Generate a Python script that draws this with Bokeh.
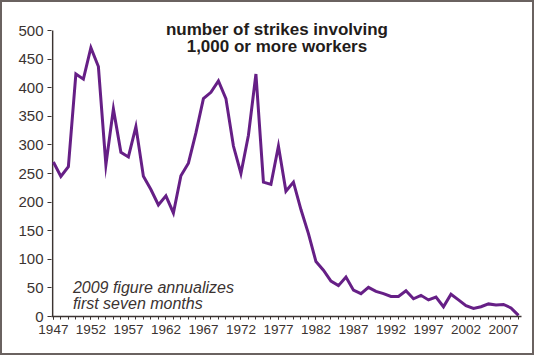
from bokeh.plotting import figure
from bokeh.models import Range1d, FixedTicker, Label
from bokeh.embed import file_html
from bokeh.resources import INLINE

years = list(range(1947, 2010))
strikes = [270, 245, 262, 424, 415, 470, 437, 265, 363, 287,
           279, 332, 245, 222, 195, 211, 181, 246, 268, 321,
           381, 392, 412, 381, 298, 250, 317, 424, 235, 231,
           298, 219, 235, 187, 145, 96, 81, 62, 54, 69,
           46, 40, 51, 44, 40, 35, 35, 45, 31, 37,
           29, 34, 17, 39, 29, 19, 14, 17, 22, 20,
           21, 15, 2]
x_tick_years = list(range(1947, 2008, 5))
y_ticks = list(range(0, 501, 50))
title_lines = ["number of strikes involving", "1,000 or more workers"]
note_lines = ["2009 figure annualizes", "first seven months"]

AX = "#3b3331"
X0 = 1946.9
p = figure(width=534, height=355, output_backend="svg", toolbar_location=None,
           x_range=Range1d(X0 - 0.15, 2009.4), y_range=Range1d(0, 528),
           min_border_left=49, min_border_right=15, min_border_top=12,
           min_border_bottom=41)
p.styles = {"border": "2px solid #6a6260"}
p.outline_line_color = None
p.xgrid.visible = False
p.ygrid.visible = False
p.background_fill_color = "white"
p.border_fill_color = "white"

# y axis line spanning only the labelled range 0..500
p.segment(x0=[X0], y0=[y_ticks[0]], x1=[X0], y1=[y_ticks[-1]],
          line_color=AX, line_width=1.5)

p.line(years, strikes, line_color="#661f86", line_width=3, line_join="miter")

for ax in (p.xaxis[0], p.yaxis[0]):
    ax.axis_line_color = AX
    ax.axis_line_width = 1.5
    ax.major_tick_line_color = AX
    ax.minor_tick_line_color = AX
    ax.major_label_text_color = AX
    ax.major_label_text_font = "Liberation Sans"
p.yaxis.axis_line_color = None

p.xaxis.ticker = FixedTicker(ticks=x_tick_years, minor_ticks=years)
p.xaxis.major_tick_out = 3
p.xaxis.major_tick_in = 0
p.xaxis.minor_tick_out = 3
p.xaxis.minor_tick_in = 0
p.xaxis.major_label_text_font_size = "13.5px"
p.xaxis.major_label_standoff = 5

p.yaxis.ticker = FixedTicker(ticks=y_ticks, minor_ticks=[])
p.yaxis.major_tick_out = 4
p.yaxis.major_tick_in = 0
p.yaxis.major_label_text_font_size = "15px"
p.yaxis.major_label_standoff = 4

for i, t in enumerate(title_lines):
    p.add_layout(Label(x=1976.8, y=501 - 29.5 * i, text=t, text_align="center",
                       text_baseline="middle", text_font="Liberation Sans",
                       text_font_style="bold", text_font_size="17px",
                       text_color="#231c1a"))
for i, t in enumerate(note_lines):
    p.add_layout(Label(x=1949.6, y=51 - 28 * i, text=t, text_align="left",
                       text_baseline="middle", text_font="Liberation Sans",
                       text_font_style="italic", text_font_size="16px",
                       text_color="#3b3331"))

open("out.html", "w").write(file_html(p, INLINE))
